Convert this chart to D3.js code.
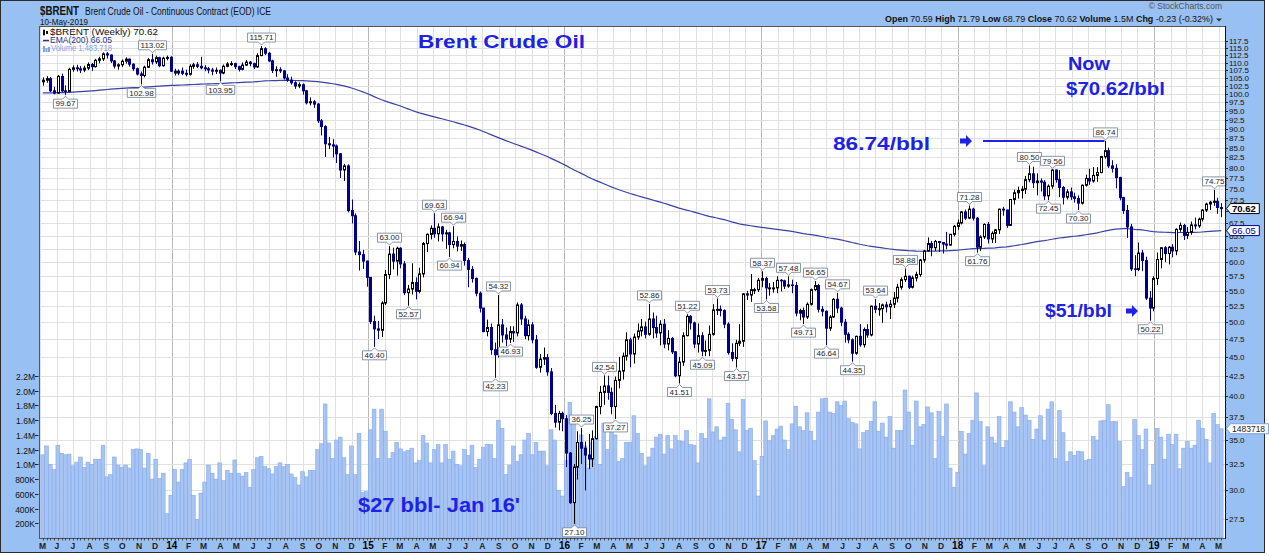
<!DOCTYPE html>
<html><head><meta charset="utf-8">
<script src="https://cdn.jsdelivr.net/npm/d3@7"></script>
<style>body{margin:0;background:#fff}svg{display:block}text{font-family:"Liberation Sans",Arial,sans-serif}</style>
</head><body><svg id="c" width="1269" height="556"></svg>
<script>
// ---------------- DATA ----------------
const symbol = "$BRENT";
const firstWeek = [2013, 4, 6];      // Monday of the first weekly bar
const lastWeekEnd = [2019, 4, 7];
const firstOpen = 103.8;
const closes = [
104.3,104.8,101.0,100.3,105.5,101.0,100.8,107.8,108.3,108.0,
107.6,108.2,109.4,108.7,110.8,111.3,113.0,112.6,110.6,108.9,
109.3,110.5,111.2,109.5,108.0,106.3,105.8,108.5,111.0,110.3,
111.7,109.0,111.5,111.8,107.2,106.6,107.2,106.5,106.2,108.8,
109.3,108.8,108.3,108.0,107.6,107.2,107.5,106.6,108.8,109.6,
109.7,108.7,107.8,109.2,110.2,109.7,108.6,112.4,114.8,113.2,
110.6,107.5,107.7,107.3,105.0,104.3,103.5,102.5,102.9,101.0,
97.4,97.7,97.0,92.2,90.6,86.0,85.7,85.4,83.4,79.4,
80.4,70.2,69.1,61.9,61.4,60.2,57.3,50.1,49.0,48.8,
53.0,57.8,61.5,60.2,62.6,59.7,54.7,55.3,56.4,54.9,
57.9,63.5,65.3,66.5,65.4,66.8,65.4,65.6,63.3,63.9,
63.0,63.3,60.3,58.7,57.1,54.6,52.2,48.6,49.2,46.0,
45.3,49.6,48.1,47.5,48.6,48.4,52.7,50.5,48.0,49.6,
47.4,43.6,44.7,44.9,43.0,37.9,36.9,37.9,37.3,33.6,
28.9,32.2,34.7,34.1,33.4,33.0,35.1,38.7,40.4,41.2,
40.4,38.7,41.9,43.1,45.1,47.4,45.4,47.8,48.7,49.3,
48.2,50.5,49.2,48.4,49.7,46.8,47.6,45.7,42.5,44.3,
48.0,50.9,49.9,46.8,48.0,45.8,45.9,48.2,51.9,52.0,
51.8,49.7,45.6,44.8,46.9,47.2,54.5,54.3,55.2,55.2,
56.8,57.1,55.5,55.5,55.5,56.8,56.7,55.8,56.0,55.9,
51.4,51.8,50.8,52.8,55.2,55.9,52.0,51.7,49.1,50.8,
53.6,52.2,50.0,48.2,47.4,45.5,47.9,46.7,48.9,48.1,
52.5,52.0,52.1,52.7,52.4,52.8,53.8,55.6,56.9,57.5,
55.6,57.2,57.8,60.4,62.1,63.5,62.7,63.9,63.7,63.4,
63.2,65.3,66.9,67.6,69.9,68.6,70.5,68.6,62.8,64.8,
67.3,64.4,65.5,66.2,70.5,70.3,67.1,72.6,74.1,74.6,
74.9,77.1,78.5,76.4,76.8,76.5,73.4,75.6,79.4,77.1,
75.3,73.1,74.3,73.2,72.8,71.8,75.8,77.4,76.8,78.1,
78.8,82.7,84.2,80.4,79.8,77.6,73.0,70.2,66.8,58.8,
58.7,61.7,60.3,53.8,52.2,57.1,60.5,62.7,61.6,62.8,
62.1,66.3,67.1,65.1,65.7,67.2,67.0,68.4,70.3,71.6,
72.0,72.2,70.85,70.62];
const highs = [
105.2,105.6,105.3,102.2,106.0,106.4,102.7,108.3,109.1,109.3,
108.9,109.0,110.1,109.9,111.3,112.0,113.5,113.6,112.8,110.9,
109.8,111.1,111.8,111.4,109.8,108.4,107.1,109.0,111.6,113.02,
112.4,112.0,112.0,112.4,112.2,108.0,107.8,108.4,107.7,109.5,
110.0,110.2,112.0,109.2,108.6,108.3,108.4,107.8,109.4,110.2,
110.5,110.0,109.0,110.1,110.9,110.6,110.0,113.2,115.71,115.3,
113.6,111.0,108.8,108.5,107.6,106.2,105.4,104.0,103.6,103.3,
101.2,99.0,98.2,97.3,92.7,91.0,87.8,87.2,85.8,83.6,
80.9,80.8,72.6,69.6,64.0,62.3,60.3,57.3,51.0,50.2,
53.3,58.6,63.0,62.7,62.9,62.8,60.2,56.0,59.8,57.3,
59.0,63.8,65.5,67.1,69.63,67.5,67.0,66.2,65.8,66.94,
64.9,64.1,63.7,60.8,59.3,57.3,54.9,52.2,50.4,49.8,
47.0,54.32,50.5,49.2,49.4,49.4,53.1,53.0,51.0,50.4,
50.0,48.1,45.4,46.3,45.4,43.5,38.9,38.2,38.1,37.7,
33.7,32.5,35.9,36.25,34.8,35.6,36.0,38.8,41.2,42.54,
42.5,41.0,42.4,45.0,45.6,48.5,47.7,48.3,49.8,50.5,
50.1,52.86,51.5,51.0,50.3,50.5,48.8,47.8,45.8,45.0,
48.5,51.22,51.1,50.1,49.8,48.5,47.3,49.5,52.8,53.73,
52.6,52.0,50.0,46.9,47.4,49.7,54.6,55.0,57.9,55.5,
57.2,58.37,57.4,56.3,56.5,57.5,57.0,56.9,57.48,56.9,
56.5,52.1,52.3,53.1,55.4,56.65,56.2,52.5,51.8,51.1,
53.8,54.67,52.4,50.5,48.5,47.6,48.0,49.7,49.2,49.7,
52.6,53.64,53.0,52.9,53.2,53.5,54.8,56.2,57.3,58.88,
57.6,57.6,58.3,60.6,62.3,64.7,64.0,64.2,64.0,63.8,
65.8,65.4,67.2,68.3,70.1,70.4,71.28,70.8,68.8,65.1,
67.5,67.8,65.9,66.4,70.6,71.0,70.4,72.7,74.8,75.5,
75.6,78.0,80.50,80.2,78.6,77.4,77.0,76.0,79.56,79.5,
79.4,75.6,74.9,75.3,74.1,73.5,76.0,78.3,79.7,80.1,
80.1,82.9,86.74,85.0,81.8,80.8,77.8,73.2,71.4,67.4,
61.3,63.7,62.3,61.0,55.0,57.5,61.8,62.8,63.0,63.0,
63.4,66.5,67.7,67.4,66.8,67.9,68.7,68.7,70.5,71.9,
72.3,74.75,73.0,71.79];
const lows = [
102.6,103.5,100.6,99.9,100.1,100.5,99.67,100.6,107.0,107.1,
106.6,106.9,107.6,107.3,108.4,109.8,110.6,111.4,109.9,108.1,
107.7,108.6,109.7,108.7,107.3,105.8,102.98,105.2,108.2,109.4,
109.6,108.5,108.7,110.8,106.9,105.8,105.9,105.9,105.5,105.8,
108.0,108.2,107.8,107.2,106.5,105.9,106.3,103.95,106.2,108.5,
108.9,107.9,107.1,107.5,108.9,108.8,107.9,108.3,112.2,112.6,
110.2,106.6,105.4,106.6,104.5,103.8,102.9,101.6,101.8,99.8,
96.9,96.6,95.9,91.6,88.2,82.6,84.6,82.5,81.1,77.5,
76.8,69.8,67.5,61.3,58.5,58.8,55.7,49.7,46.40,47.5,
47.8,52.7,57.0,58.7,57.6,58.9,54.3,52.57,54.4,53.6,
54.6,57.3,61.9,64.3,64.6,63.9,63.9,62.5,60.94,62.6,
62.0,62.1,59.4,55.6,56.4,54.1,51.5,48.5,47.9,45.3,
42.23,44.9,47.0,46.5,46.93,47.1,47.9,49.6,47.5,47.3,
46.9,43.4,42.9,43.9,42.5,37.7,36.3,36.0,35.9,32.2,
28.8,27.10,31.0,32.5,30.0,32.0,32.2,35.0,37.8,38.9,
39.5,37.8,37.27,40.9,42.0,44.5,43.6,44.1,47.4,47.9,
47.6,48.0,47.6,47.7,46.6,46.2,45.9,45.4,42.3,41.51,
43.8,47.9,48.9,46.2,45.6,45.09,45.1,45.1,48.0,51.1,
50.9,49.1,45.3,44.4,43.57,46.5,46.4,53.5,53.2,54.5,
54.8,55.6,53.58,54.2,54.7,54.6,54.9,55.3,55.5,54.6,
50.9,50.3,49.71,50.5,52.6,55.0,51.5,50.9,46.64,48.7,
50.7,51.4,49.4,47.0,46.9,44.35,45.3,46.4,46.3,47.7,
47.9,51.4,51.0,49.9,51.5,50.5,52.2,53.1,55.2,56.5,
55.3,55.4,56.6,57.4,59.9,62.0,61.1,62.1,61.9,61.6,
62.4,63.1,64.9,66.2,67.3,68.2,68.4,68.1,61.76,62.1,
64.4,63.5,63.6,63.6,65.4,69.1,66.6,67.0,71.5,72.8,
72.8,73.8,76.5,75.2,73.5,74.4,72.5,72.45,75.0,76.4,
73.1,71.5,72.6,72.5,71.9,70.30,71.5,75.5,75.9,76.4,
76.6,78.6,82.2,79.9,78.8,75.1,72.4,69.5,64.6,58.4,
57.5,58.4,58.4,53.5,50.22,51.7,56.0,58.9,60.0,59.6,
60.9,61.3,65.8,64.2,64.4,65.2,66.3,66.6,67.9,69.9,
70.3,71.2,69.5,68.79];
// weekly volume, millions of contracts
const volumesM = [
1.13,1.25,1.0,0.93,1.26,1.15,1.13,1.14,0.98,1.03,
1.1,0.96,1.03,1.0,1.07,1.07,1.26,0.83,0.86,1.1,
0.99,0.96,0.99,0.95,1.2,1.21,1.2,0.95,1.15,0.8,
1.07,0.81,0.88,0.33,0.58,0.93,0.76,0.93,1.02,1.07,
0.58,0.25,0.61,0.76,0.99,0.88,0.8,1.02,0.78,0.92,
0.88,1.06,0.88,0.84,0.89,0.69,0.93,1.09,1.11,0.97,
0.94,0.87,0.97,1.02,0.97,1.0,0.87,0.82,0.72,0.90,
0.83,0.92,0.92,1.20,1.28,1.82,1.29,1.08,1.33,1.37,
1.09,0.86,1.25,0.86,1.42,0.62,0.63,1.47,1.75,1.08,
1.75,1.45,1.08,1.16,1.30,1.21,1.17,1.19,1.22,1.02,
1.05,1.39,1.29,1.02,1.20,1.27,1.02,1.27,1.07,1.18,
1.0,0.98,1.20,1.12,1.26,0.96,1.07,1.23,1.27,1.27,
1.08,1.60,1.49,0.86,0.99,1.25,1.04,1.13,1.33,1.42,
1.13,1.30,1.18,1.18,0.98,1.47,1.33,0.65,0.57,1.05,
1.84,1.60,1.10,1.40,1.25,0.95,1.30,1.38,1.00,1.56,
1.20,1.56,1.40,1.04,1.08,1.30,1.30,1.66,1.42,1.15,
0.98,1.10,1.22,1.37,1.41,1.14,1.39,1.21,1.39,1.32,
1.31,1.46,1.27,1.26,1.02,1.42,1.35,1.89,1.44,1.51,
1.33,1.37,1.83,1.61,1.47,1.17,1.88,1.46,1.49,1.05,
0.57,1.11,1.59,1.32,1.39,1.48,1.52,1.33,1.20,1.55,
1.79,1.51,1.46,1.70,1.45,1.32,1.71,1.89,1.90,1.71,
1.69,1.85,1.80,1.86,1.62,1.57,1.55,1.21,1.43,1.46,
1.58,1.85,1.45,1.56,1.37,1.65,1.22,1.46,1.46,2.01,
1.71,1.26,1.86,1.51,1.54,1.78,1.70,1.08,1.72,1.38,
1.82,0.95,0.69,0.89,1.45,1.14,1.42,1.60,1.97,1.58,
0.98,1.51,1.37,1.29,1.65,1.23,1.32,1.85,1.71,1.51,
1.77,1.67,1.60,1.34,1.48,1.66,1.33,1.75,1.85,1.08,
1.73,1.43,1.04,1.17,1.12,1.18,1.17,1.05,1.07,1.38,
1.33,1.59,1.60,1.81,1.58,1.58,1.31,0.70,0.89,0.82,
1.61,1.39,1.20,1.48,0.72,1.00,1.49,1.37,1.07,1.41,
1.27,1.41,0.94,1.22,1.31,1.22,1.26,1.60,1.49,1.34,
1.02,1.69,1.54,1.483718];
const emaPeriod = 200;
const emaSeed = 100.3;          // EMA level entering the first visible week
const emaLast = 66.05;
const lastClose = 70.62;
const lastVolumeText = "1483718";
const priceTicks = [27.5,30,32.5,35,37.5,40,42.5,45,47.5,50,52.5,55,57.5,60,62.5,65,67.5,70,72.5,75,77.5,80,82.5,85,87.5,90,92.5,95,97.5,100,102.5,105,107.5,110,112.5,115,117.5];
const volumeTicks = [0.2,0.4,0.6,0.8,1.0,1.2,1.4,1.6,1.8,2.0,2.2];
const volumeTickLabels = ["200K","400K","600K","800K","1.0M","1.2M","1.4M","1.6M","1.8M","2.0M","2.2M"];
const monthLetters = ["J","F","M","A","M","J","J","A","S","O","N","D"];
// swing labels: [week index, "H"igh / "L"ow]
const swingPoints = [[6,"L"],[26,"L"],[29,"H"],[47,"L"],[58,"H"],[88,"L"],[92,"H"],[97,"L"],[104,"H"],[108,"L"],[109,"H"],
 [120,"L"],[121,"H"],[124,"L"],[141,"L"],[143,"H"],[149,"H"],[152,"L"],[161,"H"],[169,"L"],[171,"H"],[175,"L"],[179,"H"],
 [184,"L"],[191,"H"],[192,"L"],[198,"H"],[202,"L"],[205,"H"],[208,"L"],[211,"H"],[215,"L"],[221,"H"],[229,"H"],
 [246,"H"],[248,"L"],[262,"H"],[267,"L"],[268,"H"],[275,"L"],[282,"H"],[294,"L"],[311,"H"]];
const headerTitle = "Brent Crude Oil - Continuous Contract (EOD) ICE";
const headerDate = "10-May-2019";
const quoteFields = [["Open","70.59"],["High","71.79"],["Low","68.79"],["Close","70.62"],["Volume","1.5M"],["Chg","-0.23 (-0.32%)"]];

// ---------------- CHART ----------------
const W = 1269, H = 556;
const P = {l:39, r:1225, t:26, b:538};
const bandBlue = "#98c0f2";
const navy = "#00008b";
const annBlue = "#1c22e6";

const svg = d3.select("#c");
const dates = d3.timeMonday.range(new Date(...firstWeek), new Date(...lastWeekEnd)).slice(0, closes.length);

const x = d3.scaleTime().domain([new Date(2013,3,29), new Date(2019,4,13)]).range([P.l, P.r]);
const y = d3.scaleLog().domain([27.5, 117.5]).range([519, 41]);
const yv = d3.scaleLinear().domain([0, 2.2]).range([P.b, 376]);

svg.append("rect").attr("width",W).attr("height",H).attr("fill","#fff");
svg.append("rect").attr("x",0.5).attr("y",0.5).attr("width",1264).attr("height",552)
  .attr("fill",bandBlue).attr("stroke","#2b2b2b");
svg.append("rect").attr("x",P.l).attr("y",P.t).attr("width",P.r-P.l).attr("height",P.b-P.t).attr("fill","#fff");

svg.append("clipPath").attr("id","clip").append("rect")
  .attr("x",P.l).attr("y",P.t).attr("width",P.r-P.l).attr("height",P.b-P.t);

// grid
const grid = svg.append("g").attr("clip-path","url(#clip)");
const months = d3.timeMonth.range(new Date(2013,4,1), new Date(2019,4,2));
grid.selectAll("line.m").data(months).join("line")
  .attr("x1",d=>Math.round(x(d))+0.5).attr("x2",d=>Math.round(x(d))+0.5)
  .attr("y1",P.t).attr("y2",P.b)
  .attr("stroke",d=>d.getMonth()===0?"#b8b8b8":"#e0e0e0").attr("stroke-width",1);
grid.selectAll("line.p").data(priceTicks).join("line")
  .attr("x1",P.l).attr("x2",P.r)
  .attr("y1",d=>Math.round(y(d))+0.5).attr("y2",d=>Math.round(y(d))+0.5)
  .attr("stroke","#e0e0e0");

// volume
const plotG = svg.append("g").attr("clip-path","url(#clip)");
const bw = x(dates[1]) - x(dates[0]);
plotG.append("g").selectAll("rect").data(volumesM).join("rect")
  .attr("x",(d,i)=>x(dates[i])-bw/2).attr("width",bw)
  .attr("y",d=>yv(d)).attr("height",d=>yv(0)-yv(d))
  .attr("fill","#a7c4f3").attr("stroke","#86a9ea").attr("stroke-width",0.6);

// EMA(200)
const alpha = 2/(emaPeriod+1);
let e = emaSeed;
const ema = closes.map(c => (e = e + alpha*(c - e)));
plotG.append("path").datum(ema)
  .attr("d", d3.line().x((d,i)=>x(dates[i])).y(d=>y(d)))
  .attr("fill","none").attr("stroke","#3742a6").attr("stroke-width",1.2);

// candles
const opens = closes.map((c,i)=> i===0 ? firstOpen : closes[i-1]);
const cg = plotG.append("g");
closes.forEach((c,i)=>{
  const o = opens[i];
  const up = c >= o;
  const cx = Math.round(x(dates[i]));
  const col = up ? "#000" : navy;
  cg.append("line").attr("x1",cx+0.5).attr("x2",cx+0.5)
    .attr("y1",y(highs[i])).attr("y2",y(lows[i])).attr("stroke",col).attr("stroke-width",1);
  const top = y(Math.max(o,c)), bot = y(Math.min(o,c));
  if (up) {
    cg.append("rect").attr("x",cx-0.5).attr("y",top).attr("width",2).attr("height",Math.max(bot-top,1))
      .attr("fill","#fff").attr("stroke","#000").attr("stroke-width",1);
  } else {
    cg.append("rect").attr("x",cx-1).attr("y",top-0.5).attr("width",3).attr("height",Math.max(bot-top+1,1.5))
      .attr("fill",navy);
  }
});

// swing labels
const lg = svg.append("g");
swingPoints.forEach(([i,t])=>{
  const v = t==="H" ? highs[i] : lows[i];
  const cx = Math.round(x(dates[i]))+0.5;
  const yy = y(v);
  const g = lg.append("g");
  const path = g.append("path").attr("fill","#fff").attr("stroke","#6d7b96").attr("stroke-width",0.8);
  const h = 9;
  const top = t==="H" ? yy - h - 4 : yy + 4;
  const txt = g.append("text").attr("x",cx).attr("y",top+7.3).attr("text-anchor","middle")
    .attr("font-size",8).attr("fill","#1e1e1e").text(v.toFixed(2));
  const w = txt.node().getComputedTextLength() + 4;
  const l = cx - w/2, r = cx + w/2;
  const d = t==="H"
    ? `M${l},${top}H${r}V${top+h}H${cx+3}L${cx},${top+h+3}L${cx-3},${top+h}H${l}Z`
    : `M${l},${top}H${cx-3}L${cx},${top-3}L${cx+3},${top}H${r}V${top+h}H${l}Z`;
  path.attr("d",d);
});

// plot frame
svg.append("rect").attr("x",P.l+0.5).attr("y",P.t+0.5).attr("width",P.r-P.l).attr("height",P.b-P.t)
  .attr("fill","none").attr("stroke","#555").attr("stroke-width",1);
svg.append("line").attr("x1",P.r+0.5).attr("x2",P.r+0.5).attr("y1",P.t).attr("y2",P.b+1).attr("stroke","#111");

// value tags on the right axis
const tags = [
  {v: y(lastClose), text: lastClose.toFixed(2), stroke:"#000", color:"#000", bold:true, fs:9.5},
  {v: y(emaLast), text: emaLast.toFixed(2), stroke:navy, color:navy, bold:false, fs:9.5},
  {v: yv(volumesM[volumesM.length-1]), text: lastVolumeText, stroke:"#7aa0e6", color:"#222", bold:false, fs:8.5}
];

// right price axis (a label fully hidden by a value tag is skipped, as in the reference)
const ra = svg.append("g");
d3.range(28,118,0.5).forEach(p=>{
  const yy = Math.round(y(p))+0.5;
  ra.append("line").attr("x1",P.r).attr("x2",P.r+1.5).attr("y1",yy).attr("y2",yy).attr("stroke","#444").attr("stroke-width",0.6);
});
priceTicks.forEach(p=>{
  const yy = Math.round(y(p))+0.5;
  ra.append("line").attr("x1",P.r).attr("x2",P.r+3).attr("y1",yy).attr("y2",yy).attr("stroke","#222");
  if (tags.some(t=>Math.abs(t.v - yy) < 4)) return;
  ra.append("text").attr("x",P.r+4).attr("y",yy+2.9).attr("font-size",8).attr("fill","#111").text(p.toFixed(1));
});

tags.forEach(tg=>{
  const yy = tg.v;
  const g = svg.append("g");
  const p = g.append("path").attr("fill","#fff").attr("stroke",tg.stroke).attr("stroke-width",1);
  const t = g.append("text").attr("x",P.r+7).attr("y",yy+3.3).attr("font-size",tg.fs)
    .attr("font-weight",tg.bold?"bold":"normal").attr("fill",tg.color).text(tg.text);
  const w = t.node().getComputedTextLength()+5;
  const l = P.r+1.5;
  p.attr("d",`M${l},${yy}L${l+4},${yy-5}H${l+4+w}V${yy+5}H${l+4}Z`);
});

// left volume axis
const va = svg.append("g");
volumeTicks.forEach((v,k)=>{
  const yy = Math.round(yv(v))+0.5;
  va.append("line").attr("x1",35).attr("x2",38.5).attr("y1",yy).attr("y2",yy).attr("stroke","#222");
  va.append("text").attr("x",35).attr("y",yy+3).attr("text-anchor","end").attr("font-size",8.5)
    .attr("fill","#111").text(volumeTickLabels[k]);
});

// bottom axis
const ba = svg.append("g");
dates.forEach(d=>{
  const xx = Math.round(x(d))+0.5;
  ba.append("line").attr("x1",xx).attr("x2",xx).attr("y1",P.b).attr("y2",P.b+2.5).attr("stroke","#333").attr("stroke-width",0.8);
});
months.forEach(m=>{
  const xx = Math.max(x(m), 42.5);
  const isYear = m.getMonth()===0;
  ba.append("text").attr("x",xx).attr("y",549).attr("text-anchor","middle")
    .attr("font-size",isYear?10:8.5).attr("font-weight","bold")
    .attr("fill",isYear?"#000":"#222")
    .text(isYear ? String(m.getFullYear()%100) : monthLetters[m.getMonth()]);
});

// header
svg.append("text").attr("x",40).attr("y",15).attr("font-size",12).attr("font-weight","bold").attr("fill","#111")
  .attr("textLength",39).attr("lengthAdjust","spacingAndGlyphs").text(symbol);
svg.append("text").attr("x",85).attr("y",15).attr("font-size",10).attr("fill","#111")
  .attr("textLength",186).attr("lengthAdjust","spacingAndGlyphs").text(headerTitle);
svg.append("text").attr("x",40).attr("y",25).attr("font-size",9.5).attr("fill","#111")
  .attr("textLength",48).attr("lengthAdjust","spacingAndGlyphs").text(headerDate);
svg.append("text").attr("x",1222).attr("y",9).attr("text-anchor","end").attr("font-size",8.5).attr("fill","#555").text("\u00A9 StockCharts.com");
const q = svg.append("text").attr("x",885).attr("y",22).attr("font-size",9.5).attr("fill","#111")
  .attr("textLength",328).attr("lengthAdjust","spacingAndGlyphs");
quoteFields.forEach(([k,v],j)=>{
  q.append("tspan").attr("font-weight","bold").text((j?"  ":"")+k+" ");
  q.append("tspan").text(v);
});
svg.append("path").attr("d","M1216,18.5h6l-3,3z").attr("fill","#333");

// legend
const leg = svg.append("g");
leg.append("rect").attr("x",43).attr("y",30).attr("width",2).attr("height",5).attr("fill","#111");
leg.append("rect").attr("x",46).attr("y",31).attr("width",2).attr("height",3).attr("fill","#111");
leg.append("line").attr("x1",44).attr("x2",44).attr("y1",29).attr("y2",36).attr("stroke","#111").attr("stroke-width",0.6);
leg.append("text").attr("x",50).attr("y",35).attr("font-size",8.5).attr("fill","#111")
  .attr("textLength",108).attr("lengthAdjust","spacingAndGlyphs").text(symbol+" (Weekly) "+lastClose.toFixed(2));
leg.append("line").attr("x1",43).attr("x2",49).attr("y1",40.5).attr("y2",40.5).attr("stroke","#2a3590").attr("stroke-width",1.5);
leg.append("text").attr("x",50).attr("y",43).attr("font-size",8.5).attr("fill","#2a3590")
  .attr("textLength",62).attr("lengthAdjust","spacingAndGlyphs").text("EMA("+emaPeriod+") "+emaLast.toFixed(2));
[[43,46],[45.5,48],[48,47]].forEach(([xx,yy])=>leg.append("rect").attr("x",xx).attr("y",yy).attr("width",2).attr("height",52-yy).attr("fill","#7fa3ea"));
leg.append("text").attr("x",51).attr("y",51).attr("font-size",8.5).attr("fill","#7fa3ea")
  .attr("textLength",61).attr("lengthAdjust","spacingAndGlyphs").text("Volume "+d3.format(",")(1483718));

// annotations
function ann(xx, yy, txt, fs, len){
  svg.append("text").attr("x",xx).attr("y",yy).attr("font-size",fs).attr("font-weight","bold")
    .attr("fill",annBlue).attr("textLength",len).attr("lengthAdjust","spacingAndGlyphs").text(txt);
}
ann(418, 48, "Brent Crude Oil", 19, 167);
ann(1068, 70, "Now", 19, 42);
ann(1066, 95, "$70.62/bbl", 19, 99);
ann(833, 150, "86.74/bbl", 19, 97);
ann(1045, 317, "$51/bbl", 19, 67);
ann(358, 512, "$27 bbl- Jan 16'", 20, 162);
function arrow(xx, yy){
  svg.append("path").attr("d",`M${xx},${yy-2.5}H${xx+6}V${yy-6}L${xx+12},${yy}L${xx+6},${yy+6}V${yy+2.5}H${xx}Z`).attr("fill",annBlue);
}
const peakY = y(86.74);
arrow(960, peakY);
svg.append("line").attr("x1",983).attr("x2",x(dates[282])).attr("y1",peakY).attr("y2",peakY)
  .attr("stroke",annBlue).attr("stroke-width",2);
arrow(1126, 311);
</script>
</body></html>
